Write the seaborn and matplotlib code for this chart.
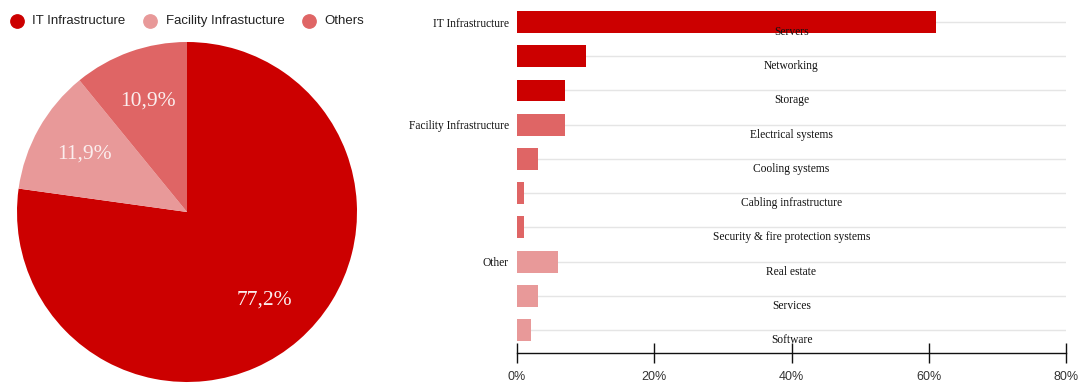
import matplotlib
matplotlib.use("Agg")
import matplotlib.pyplot as plt
import seaborn as sns
import pandas as pd
from matplotlib.lines import Line2D
from matplotlib.ticker import FuncFormatter
import matplotlib.transforms as mtransforms

# Share of total cost by main category (pie)
pie_labels = ["IT Infrastructure", "Facility Infrastucture", "Others"]
pie_values = [77.2, 11.9, 10.9]
pie_texts = ["77,2%", "11,9%", "10,9%"]

# Breakdown by cost item (bars), in percent
items = ["Servers", "Networking", "Storage", "Electrical systems", "Cooling systems",
         "Cabling infrastructure", "Security & fire protection systems",
         "Real estate", "Services", "Software"]
item_values = [61, 10, 7, 7, 3, 1, 1, 6, 3, 2]
item_groups = ["IT Infrastructure"] * 3 + ["Facility Infrastructure"] * 4 + ["Other"] * 3
group_labels = ["IT Infrastructure", "Facility Infrastructure", "Other"]
x_ticks = [0, 20, 40, 60, 80]

RED = "#cc0000"
MID = "#df6565"
LIGHT = "#e89999"

sns.set_theme(style="white")
plt.rcParams["font.family"] = ["Liberation Sans", "DejaVu Sans"]

fig = plt.figure(figsize=(10.85, 3.83), dpi=100)
W, H = 1085, 383

# ---- pie ----
ax_pie = fig.add_axes([17 / W, 1 / H, 340 / W, 340 / H])
wedges, texts = ax_pie.pie(
    pie_values, colors=[RED, LIGHT, MID], startangle=90, counterclock=False,
    labels=pie_texts, labeldistance=0.69,
    wedgeprops=dict(linewidth=0),
    textprops=dict(color="#fbeeee", fontsize=15.5, family="Liberation Serif",
                   ha="center", va="center"),
)
ax_pie.set_xlim(-1, 1)
ax_pie.set_ylim(-1, 1)
ax_pie.set_aspect("equal")
ax_pie.axis("off")

# legend row above the pie
legend_y = 1 - 21 / H
for (cx, tx), lab, col in zip([(16.7, 31.5), (150, 165.5), (309, 324.5)], pie_labels,
                              [RED, LIGHT, MID]):
    fig.add_artist(Line2D([cx / W], [legend_y], marker="o", markersize=9.6,
                          color=col, linestyle="none", transform=fig.transFigure))
    fig.text(tx / W, legend_y, lab, fontsize=9.5, color="#222222",
             va="center", ha="left")

# ---- bars ----
df = pd.DataFrame({"item": items, "value": item_values, "group": item_groups})
ax = fig.add_axes([517 / W, (H - 353) / H, 549 / W, 353 / H])
sns.barplot(data=df, y="item", x="value", hue="group", orient="h",
            palette={"IT Infrastructure": RED, "Facility Infrastructure": MID,
                     "Other": LIGHT},
            dodge=False, width=0.64, legend=False, ax=ax, linewidth=0,
            saturation=1)
ax.set_axisbelow(True)
ax.set_xlim(0, 80)
ax.set_ylim(9.67, -0.643)
ax.set_xlabel("")
ax.set_ylabel("")

# group names on the left, grid line through every row
positions = list(range(len(items)))
ylabels = ["" for _ in items]
for g in group_labels:
    ylabels[item_groups.index(g)] = g
ax.set_yticks(positions, labels=ylabels)
ax.tick_params(axis="y", length=0, pad=6)
for t in ax.get_yticklabels():
    t.set_fontfamily("Liberation Serif")
    t.set_fontsize(8.3)
    t.set_color("#111111")
ax.grid(axis="y", color="#e5e5e5", linewidth=1)
ax.grid(axis="x", visible=False)

# item names centered under each bar row
trans = mtransforms.blended_transform_factory(ax.transAxes, ax.transData)
for i, name in enumerate(items):
    ax.text(0.5, i + 0.29, name, transform=trans, ha="center", va="center",
            fontsize=8.3, family="Liberation Serif", color="#111111")

ax.set_xticks(x_ticks)
ax.xaxis.set_major_formatter(FuncFormatter(lambda v, p: f"{v:.0f}%"))
ax.tick_params(axis="x", direction="inout", length=14, width=1, color="#111111",
               labelsize=9, labelcolor="#333333", pad=6, bottom=True)
for s in ["top", "right", "left"]:
    ax.spines[s].set_visible(False)
ax.spines["bottom"].set_color("#111111")
ax.spines["bottom"].set_linewidth(1)

fig.savefig("out.png", dpi=100, facecolor="white")
